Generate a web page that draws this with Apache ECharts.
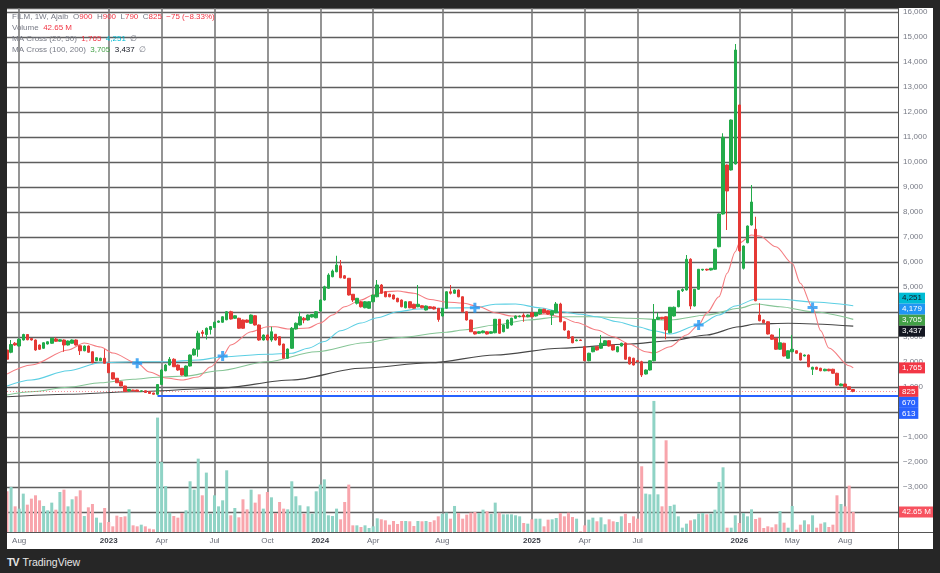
<!DOCTYPE html>
<html><head><meta charset="utf-8">
<script src="https://cdn.jsdelivr.net/npm/echarts@6/dist/echarts.min.js"></script>
<style>
html,body{margin:0;padding:0;background:#262626;width:940px;height:573px;overflow:hidden;font-family:"Liberation Sans",Arial,sans-serif}
#chart{position:absolute;left:7px;top:8px;width:926px;height:541px;background:#fff}
#logo{position:absolute;left:7px;top:555px;color:#e6e6e6;font-size:10.5px;line-height:14px;white-space:nowrap}
#logo b{font-size:10.5px;letter-spacing:-1px;margin-right:4px;font-weight:900}
</style></head>
<body>
<div id="chart"></div>
<div id="logo"><b>TV</b>TradingView</div>
<script>
// ---------- data (weekly candles) ----------
const opens = [2480,2390,2750,2640,2880,3100,2940,2880,2680,2550,
2720,2750,2920,2830,2880,2680,2750,2880,2650,2450,
2640,2410,2050,2050,2150,1950,1570,1350,1210,1040,
840,880,880,820,850,810,760,710,1100,1650,
1880,2110,1880,1750,1440,1840,2280,2510,3200,3100,
3300,3380,3590,3590,3690,4010,3750,3750,3680,3680,
3550,3850,3480,2880,3080,2880,3110,3010,2720,2150,
2550,3320,3480,3750,3680,3800,3770,4040,4480,4950,
5410,5610,5850,5450,5350,4710,4350,4410,4170,4150,
4410,4610,5080,4810,4710,4680,4550,4480,4170,4410,
4310,4210,4250,4080,4210,4200,4150,3840,4150,4810,
4750,4880,4610,4010,3680,3210,3150,3170,3210,3150,
3170,3710,3210,3350,3480,3750,3810,3880,3810,3970,
3840,3920,4110,4050,3880,3970,4320,3610,3240,3010,
2850,2880,2610,2050,2410,2610,2550,2680,2850,2680,
2410,2640,2750,2190,2150,2050,2010,1520,1680,2050,
3710,3790,3810,3170,3840,4210,4850,4880,6110,4240,
4910,5680,5710,5680,5710,6610,7920,9880,9680,9920,
12280,5750,6770,7480,7310,3880,3680,3610,3080,2950,
2510,2750,2150,2410,2450,2350,2240,2280,1710,1790,
1750,1650,1710,1710,1550,1050,1120,1010,900];
const closes = [2110,2700,2680,2910,3100,2890,2880,2480,2510,2770,
2810,2950,2830,2890,2680,2840,2880,2680,2450,2640,
2390,1970,2170,2150,1950,1570,1320,1170,1040,820,
900,850,830,850,780,740,710,1100,1680,1880,
2110,1810,1680,1480,1840,2280,2510,3150,3140,3350,
3420,3590,3640,3810,4010,3720,3850,3350,3350,3590,
3880,3480,2880,3080,2880,3210,2880,2680,2150,2520,
3350,3550,3810,3680,3880,3900,4010,4480,5010,5480,
5640,5880,5370,5350,4680,4480,4550,4210,4410,4410,
4680,5080,4750,4610,4610,4520,4410,4210,4410,4170,
4150,4310,4170,4240,4150,4120,3700,4150,4810,4750,
4880,4610,4010,3680,3210,3120,3210,3240,3120,3210,
3710,3150,3480,3680,3750,3840,3840,3810,3880,3810,
3970,4110,3970,3920,4050,4320,3610,3280,2950,2770,
2880,2860,2050,2350,2590,2480,2750,2850,2640,2480,
2610,2750,2110,1920,1880,2010,1480,1680,2050,3700,
3790,3730,3280,4190,4190,4850,4900,6110,4240,4910,
5710,5710,5680,5750,6510,7920,10990,8840,11680,14480,
6450,6640,7440,8400,4450,3650,3570,3120,2910,2510,
2770,2240,2450,2510,2350,2080,2280,1810,1790,1710,
1650,1710,1650,1550,1080,1120,1010,900,825];
const lows = [2080,2350,2650,2620,2860,2870,2860,2450,2480,2530,
2700,2730,2810,2820,2410,2660,2740,2660,2280,2430,
2370,1950,2040,2040,1940,1560,1300,1160,1030,810,
830,840,820,810,770,730,700,670,1080,1630,
1860,1800,1650,1460,1430,1820,2260,2210,3010,2900,
3100,3360,3560,3570,3670,3700,3730,3330,3330,3570,
3530,3460,2850,2860,2860,2810,2860,2660,2140,2130,
2520,3300,3460,3550,3660,3780,3750,4020,4460,4930,
5390,5590,5350,5330,4660,4400,4300,4180,4150,4130,
4390,4590,4730,4590,4590,4500,4390,4190,4150,4150,
4130,4190,4150,4060,4130,4100,3610,3820,4130,4700,
4730,4590,3990,3660,3200,3100,3130,3150,3100,3130,
3150,3130,3190,3330,3460,3730,3790,3610,3790,3790,
3820,3900,3950,3900,3480,3950,3590,3260,2930,2750,
2830,2840,2040,2030,2390,2460,2530,2660,2620,2460,
2390,2620,2090,1900,1860,1990,1400,1500,1660,2030,
3680,3700,2910,3150,3820,4190,4800,4860,4110,4220,
4890,5650,5650,5660,5690,6590,7900,7280,9660,9900,
6400,5700,6750,7460,4430,3630,3550,3100,2890,2490,
2490,2220,2130,2390,2330,2060,2220,1790,1480,1690,
1630,1630,1630,1530,1060,1030,990,890,790];
const highs = [2520,2880,2800,2950,3130,3110,2960,2900,2700,2790,
2830,2960,2990,2910,2900,2860,2900,2900,2660,2660,
2660,2420,2190,2170,2510,1960,1580,1360,1220,1050,
910,890,890,860,860,820,770,1120,1720,1920,
2200,2150,1900,1760,1860,2300,2550,3250,3280,3380,
3440,3620,3660,3830,4040,4050,3870,3770,3700,3700,
3900,3870,3500,3100,3100,3410,3120,3020,2730,2540,
3400,3580,4010,3800,3900,3920,4040,4500,5050,5550,
5700,6250,6080,5480,5360,4720,4560,4450,4440,4420,
4700,5280,5120,4830,4730,4700,4570,4500,4430,4430,
4330,5080,4270,4260,4230,4220,4160,4160,4830,5080,
4900,4900,4620,4020,3690,3220,3230,3260,3230,3230,
3720,3720,3500,3700,3770,3860,3860,3950,3900,3990,
3990,4130,4130,4070,4070,4400,4370,3630,3260,3030,
2900,2900,2620,2370,2610,2630,3080,2870,2870,2700,
2630,2770,2770,2210,2170,2070,2050,1700,2070,4320,
3970,3800,3830,4200,4220,4870,4950,6280,6150,4920,
5720,5720,5730,5760,6530,7950,11150,9900,11700,14720,
12300,6660,7460,9080,7810,4350,3700,3630,3100,2970,
3350,2770,2470,3080,2470,2370,2300,2300,1810,1810,
1770,1730,1730,1730,1570,1140,1140,1010,900];
// weekly volume, millions
const volumes = [86.7,96,54.7,49.8,81.8,58.3,71.1,78.2,67.5,55.5,
46.2,62.6,47.6,85.3,90.3,54.7,69.7,76.1,88.9,34.1,
52.6,59.7,30.6,19.9,51.2,21.3,12.1,34.8,32,33.4,
48.3,14.2,12.1,15.6,12.1,7.1,5.7,243.9,149.3,98.1,
41.2,34.1,30.6,40.5,46.2,108.1,90.3,156.4,78.2,126.6,
39.1,78.2,54.7,67.5,131.5,35.6,51.2,31.3,69.7,48.3,
90.3,62.6,80.3,49.8,85.3,73.9,40.5,64,49.8,48.3,
108.1,76.1,56.9,39.1,54.7,39.1,86.7,101,112.3,35.6,
34.1,49.8,27,64,101,14.2,14.2,10.7,14.2,8.5,
12.1,29.2,27,24.9,15.6,23.5,17.1,23.5,23.5,22.8,
12.8,23.5,22.8,23.5,21.3,24.9,33.4,39.1,41.2,28.4,
55.5,40.5,28.4,37,41.2,42.7,40.5,47.6,44.1,38.4,
62.6,41.2,37.7,37.7,37.7,35.6,33.4,19.2,17.8,27,
28.4,28.4,12.1,26.3,27,29.9,40.5,33.4,41.2,32,
28.4,1.4,14.2,26.3,30.6,22.8,31.3,16.4,27,22.8,
21.3,33.4,39.1,19.2,33.4,28.4,140.1,81.8,80.3,279.4,
80.3,54.7,195.5,55.5,58.3,33.4,9.2,17.8,24.9,27,
39.1,40.5,37.7,39.1,47.6,106.7,137.9,9.2,9.2,35.6,
19.2,40.5,33.4,48.3,27.7,30.6,8.5,12.1,10,16.4,
44.8,19.9,9.2,55.5,5,15.6,24.9,16.4,35.6,9.2,
17.8,20.6,10.7,15.6,78.2,59.7,54.7,98.8,42.65];
// moving-average lines: [week index, value]
const ma20Pts = [[0,1520],[6,1880],[15,2480],[19,2760],[23,2600],[26,2360],[32,1950],[35,1600],[39,1360],[43,1280],[47,1400],[50,1800],[53,2240],[55,2680],[60,3210],[64,3410],[66,3410],[69,3320],[74,3360],[77,3560],[80,3880],[83,4210],[87,4480],[90,4680],[93,4810],[96,4840],[100,4750],[104,4500],[108,4400],[112,4360],[116,4210],[120,3970],[124,3840],[128,3810],[132,3920],[136,3810],[140,3580],[145,3280],[149,3010],[153,2720],[157,2410],[159,2360],[163,2610],[167,3080],[170,3480],[172,3960],[175,4610],[177,5550],[179,6410],[180,6760],[183,7080],[185,7040],[189,6610],[193,5950],[195,5150],[198,4179],[200,3250],[202,2560],[207,1850],[208,1765]];
const ma50Pts = [[0,1040],[6,1280],[15,1650],[23,1970],[31,2010],[39,2010],[47,2080],[53,2210],[64,2310],[70,2350],[74,2550],[78,2820],[82,3250],[87,3560],[91,3770],[96,4010],[101,4120],[108,4160],[115,4170],[120,4310],[125,4320],[131,4170],[136,4010],[141,3910],[145,3810],[150,3610],[155,3410],[159,3250],[163,3120],[170,3480],[175,3880],[179,4240],[184,4510],[190,4510],[198,4400],[208,4251]];
const ma100Pts = [[0,680],[6,810],[15,990],[23,1170],[31,1310],[37,1390],[44,1440],[52,1650],[64,2010],[76,2410],[88,2770],[96,2970],[108,3190],[112,3280],[120,3480],[128,3680],[136,3810],[145,3810],[153,3750],[163,3680],[172,3880],[180,4150],[184,4320],[190,4210],[198,4010],[208,3705]];
const ma200Pts = [[0,610],[15,710],[31,810],[52,950],[70,1280],[87,1750],[104,1970],[120,2280],[136,2550],[153,2720],[163,2850],[172,3080],[180,3410],[184,3520],[192,3550],[208,3437]];
const crossPts = [[32,1950],[53,2240],[115,4170],[170,3480],[198,4179]];
const hLineStart = 37, hLineValue = 670, extraLevel = 613;
// x-axis ticks
const tickIndex = [3,25,38,51,64,77,90,107,129,142,155,180,193,206];
const tickText = ['Aug','2023','Apr','Jul','Oct','2024','Apr','Aug','2025','Apr','Jul','2026','May','Aug'];

// ---------- styles ----------
const UP = '#22ab4a', DN = '#e53935';
const UPV = '#8fd3c5', DNV = '#f8a5ac';
const GRID = '#5e5e5e';
const FONT = '"Liberation Sans", Arial, sans-serif';
const M = 220;
const N = opens.length;
const cats = Array.from({length: M}, (_, i) => String(i));
const candleData = opens.map((o, i) => [o, closes[i], lows[i], highs[i]]);
const volData = volumes.map((v, i) => ({value: v, itemStyle: {color: closes[i] >= opens[i] ? UPV : DNV}}));
const fmtNum = v => (v < 0 ? '\u2212' : '') + Math.abs(v).toLocaleString('en-US');
const last = a => a[a.length - 1][1];

const chart = echarts.init(document.getElementById('chart'), null, {renderer: 'canvas'});
chart.setOption({
  animation: false,
  backgroundColor: '#fff',
  textStyle: {fontFamily: FONT},
  grid: [
    {left: 0, right: 35, top: 0, bottom: 12},
    {left: 0, right: 35, top: 0, bottom: 17}
  ],
  xAxis: [
    {type: 'category', gridIndex: 0, data: cats, boundaryGap: false, show: false},
    {type: 'category', gridIndex: 1, data: cats, boundaryGap: false,
     axisLine: {show: true, lineStyle: {color: '#555', width: 1}},
     axisTick: {show: false},
     axisLabel: {
       interval: (i) => tickIndex.includes(i),
       formatter: (v, i) => { const k = tickIndex.indexOf(i); if (k < 0) return ''; const t = tickText[k]; return /^\d{4}$/.test(t) ? '{b|' + t + '}' : t; },
       margin: 5, color: '#6a6d78', fontSize: 8, fontFamily: FONT,
       rich: {b: {fontWeight: 'bold', color: '#3a3d46', fontSize: 8, fontFamily: FONT}}
     },
     splitLine: {show: true, interval: (i) => tickIndex.includes(i), lineStyle: {color: '#7a7a7a', width: 1.6}}}
  ],
  yAxis: [
    {type: 'value', gridIndex: 0, position: 'right', min: -5000, max: 16160, interval: 1000,
     axisLine: {show: true, lineStyle: {color: '#555', width: 1}}, axisTick: {show: false},
     axisLabel: {margin: 5, fontSize: 8, color: '#787b86', fontFamily: FONT, showMinLabel: false, showMaxLabel: false,
       formatter: v => (v % 1000 !== 0 || v <= -5000) ? '' : fmtNum(v)},
     splitLine: {show: true, showMinLine: false, lineStyle: {color: GRID, width: 1.4}}},
    {type: 'value', gridIndex: 1, min: 0, max: 1117, show: false, splitLine: {show: false}}
  ],
  series: [
    {type: 'bar', name: 'Volume', xAxisIndex: 1, yAxisIndex: 1, data: volData, barWidth: 3, z: 1},
    {type: 'line', name: 'MA200', data: ma200Pts, smooth: 0.3, smoothMonotone: 'x', showSymbol: false, lineStyle: {color: '#474747', width: 1.2}, z: 2},
    {type: 'line', name: 'MA100', data: ma100Pts, smooth: 0.3, smoothMonotone: 'x', showSymbol: false, lineStyle: {color: '#86c596', width: 1.1}, z: 2},
    {type: 'line', name: 'MA50', data: ma50Pts, smooth: 0.3, smoothMonotone: 'x', showSymbol: false, lineStyle: {color: '#5ccfe3', width: 1.1}, z: 2},
    {type: 'line', name: 'MA20', data: ma20Pts, smooth: 0.3, smoothMonotone: 'x', showSymbol: false, lineStyle: {color: '#f47c80', width: 1.1}, z: 2},
    {type: 'candlestick', name: 'FILM', data: candleData, barWidth: 3, z: 3,
     itemStyle: {color: UP, color0: DN, borderColor: UP, borderColor0: DN, borderWidth: 1},
     markLine: {silent: true, symbol: ['none', 'none'], label: {show: false}, animation: false,
       data: [
         {yAxis: closes[N - 1], lineStyle: {color: '#f23645', type: [1, 2], width: 1, opacity: 0.55}},
         [{coord: [hLineStart, hLineValue], lineStyle: {color: '#2962ff', width: 2, type: 'solid', opacity: 1}}, {coord: [M - 1, hLineValue]}]
       ]}},
    {type: 'scatter', name: 'Cross', data: crossPts, symbol: 'path://M3.5,0H6.5V3.5H10V6.5H6.5V10H3.5V6.5H0V3.5H3.5Z', symbolSize: 10, itemStyle: {color: '#2196f3'}, z: 4}
  ]
});

// ---------- legend ----------
const chg = closes[N - 1] - closes[N - 2];
const pct = (chg / closes[N - 2] * 100).toFixed(2);
const rich = {
  g: {fill: '#787b86', font: '8px ' + FONT},
  r: {fill: '#f23645', font: '8px ' + FONT},
  c: {fill: '#00bcd4', font: '8px ' + FONT},
  n: {fill: '#43a047', font: '8px ' + FONT},
  k: {fill: '#131722', font: '8px ' + FONT}
};
const legendLines = [
  `{g|FILM, 1W, Ajaib}  {g|O}{r|${fmtNum(opens[N-1])}}  {g|H}{r|${fmtNum(highs[N-1])}}  {g|L}{r|${fmtNum(lows[N-1])}}  {g|C}{r|${fmtNum(closes[N-1])}}  {r|${fmtNum(chg)} (${chg < 0 ? '\u2212' : ''}${Math.abs(pct)}%)}`,
  `{g|Volume}  {r|${volumes[N-1].toFixed(2)} M}`,
  `{g|MA Cross (20, 50)}  {r|${fmtNum(last(ma20Pts))}}  {c|${fmtNum(last(ma50Pts))}}  {g|\u2205}`,
  `{g|MA Cross (100, 200)}  {n|${fmtNum(last(ma100Pts))}}  {k|${fmtNum(last(ma200Pts))}}  {g|\u2205}`
];
const graphics = legendLines.map((t, k) => ({
  type: 'text', z: 50, silent: true, x: 5, y: 8.5 + k * 11,
  style: {text: t, rich: rich, font: '8px ' + FONT, verticalAlign: 'middle', align: 'left'}
}));
// frame lines continuing axes into the price-scale strip
graphics.push({type: 'line', z: 40, silent: true, shape: {x1: 891, y1: 524.5, x2: 926, y2: 524.5}, style: {stroke: '#555', lineWidth: 1}});
graphics.push({type: 'line', z: 40, silent: true, shape: {x1: 891.5, y1: 0, x2: 891.5, y2: 541}, style: {stroke: '#555', lineWidth: 1}});

// ---------- price-scale labels ----------
const priceMarks = [
  {v: last(ma50Pts), bg: '#00bcd4', fg: '#131722'},
  {v: last(crossPts), bg: '#2196f3', fg: '#fff'},
  {v: last(ma100Pts), bg: '#43a047', fg: '#fff'},
  {v: last(ma200Pts), bg: '#131722', fg: '#fff'},
  {v: last(ma20Pts), bg: '#f23645', fg: '#fff'},
  {v: closes[N - 1], bg: '#f23645', fg: '#fff', anchor: true},
  {v: hLineValue, bg: '#2962ff', fg: '#fff'},
  {v: extraLevel, bg: '#2962ff', fg: '#fff'}
];
priceMarks.forEach(m => { m.y = chart.convertToPixel({yAxisIndex: 0}, m.v); m.text = fmtNum(m.v); });
function stackLabels(items, h) {
  items.sort((a, b) => a.y - b.y);
  let groups = items.map(it => [it]);
  const place = g => {
    const ai = g.findIndex(it => it.anchor);
    const top = ai >= 0 ? g[ai].y - ai * h : g.reduce((s, it) => s + it.y, 0) / g.length - (g.length - 1) * h / 2;
    g.forEach((it, k) => it.py = top + k * h);
  };
  let merged = true;
  while (merged) {
    merged = false;
    groups.forEach(place);
    for (let k = 0; k + 1 < groups.length; k++) {
      const a = groups[k], b = groups[k + 1];
      if (b[0].py - a[a.length - 1].py < h) { groups.splice(k, 2, a.concat(b)); merged = true; break; }
    }
  }
  return items;
}
stackLabels(priceMarks, 11);
const volMark = {text: volumes[N - 1].toFixed(2) + ' M', bg: '#f7525f', fg: '#fff', py: chart.convertToPixel({yAxisIndex: 1}, volumes[N - 1])};
priceMarks.concat([volMark]).forEach(m => {
  graphics.push({type: 'text', z: 60, silent: true, x: 892, y: m.py,
    style: {text: m.text, fill: m.fg, backgroundColor: m.bg, padding: [1.5, 3, 1.5, 3], font: '8px ' + FONT, lineHeight: 8, verticalAlign: 'middle', align: 'left'}});
});
chart.setOption({graphic: graphics});
</script>
</body></html>
